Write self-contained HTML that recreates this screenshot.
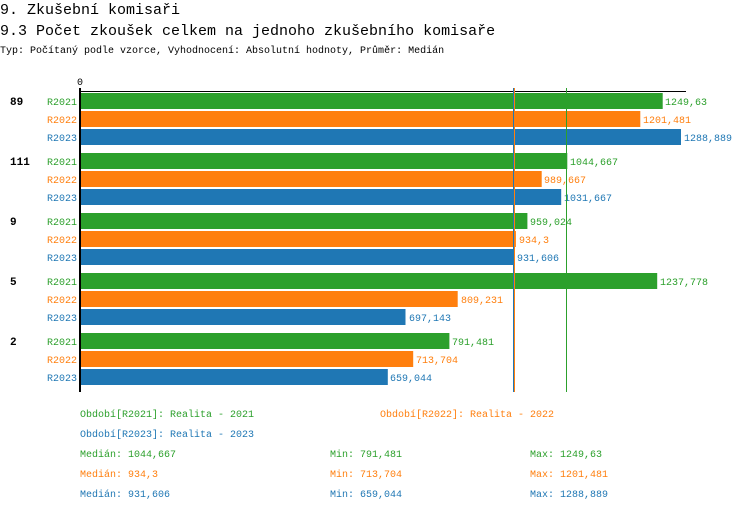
<!DOCTYPE html>
<html><head><meta charset="utf-8"><style>
body{margin:0;background:#fff;}
svg text{font-family:"Liberation Mono","DejaVu Sans Mono",monospace;}
</style></head><body>
<svg width="750" height="512" xmlns="http://www.w3.org/2000/svg">
<text x="0" y="14" font-size="15">9. Zkušební komisaři</text>
<text x="0" y="35" font-size="15">9.3 Počet zkoušek celkem na jednoho zkušebního komisaře</text>
<text x="0" y="53" font-size="10">Typ: Počítaný podle vzorce, Vyhodnocení: Absolutní hodnoty, Průměr: Medián</text>
<text x="80" y="85" font-size="10" text-anchor="middle">0</text>
<line x1="80" y1="91.5" x2="686" y2="91.5" stroke="#000" stroke-width="1"/>
<g id="bars" font-size="10">
<!-- group 1 -->
<text x="10" y="105" font-weight="bold" font-size="11">89</text>
<rect x="81" y="93" width="581.7" height="16" fill="#2ca02c"/><text x="665" y="105" fill="#2ca02c">1249,63</text><text x="77" y="105" fill="#2ca02c" text-anchor="end">R2021</text>
<rect x="81" y="111" width="559.3" height="16" fill="#ff7f0e"/><text x="643" y="123" fill="#ff7f0e">1201,481</text><text x="77" y="123" fill="#ff7f0e" text-anchor="end">R2022</text>
<rect x="81" y="129" width="600" height="16" fill="#1f77b4"/><text x="684" y="141" fill="#1f77b4">1288,889</text><text x="77" y="141" fill="#1f77b4" text-anchor="end">R2023</text>
<!-- group 2 -->
<text x="10" y="165" font-weight="bold" font-size="11">111</text>
<rect x="81" y="153" width="486.3" height="16" fill="#2ca02c"/><text x="570" y="165" fill="#2ca02c">1044,667</text><text x="77" y="165" fill="#2ca02c" text-anchor="end">R2021</text>
<rect x="81" y="171" width="460.7" height="16" fill="#ff7f0e"/><text x="544" y="183" fill="#ff7f0e">989,667</text><text x="77" y="183" fill="#ff7f0e" text-anchor="end">R2022</text>
<rect x="81" y="189" width="480.2" height="16" fill="#1f77b4"/><text x="564" y="201" fill="#1f77b4">1031,667</text><text x="77" y="201" fill="#1f77b4" text-anchor="end">R2023</text>
<!-- group 3 -->
<text x="10" y="225" font-weight="bold" font-size="11">9</text>
<rect x="81" y="213" width="446.4" height="16" fill="#2ca02c"/><text x="530" y="225" fill="#2ca02c">959,024</text><text x="77" y="225" fill="#2ca02c" text-anchor="end">R2021</text>
<rect x="81" y="231" width="434.9" height="16" fill="#ff7f0e"/><text x="519" y="243" fill="#ff7f0e">934,3</text><text x="77" y="243" fill="#ff7f0e" text-anchor="end">R2022</text>
<rect x="81" y="249" width="433.7" height="16" fill="#1f77b4"/><text x="517" y="261" fill="#1f77b4">931,606</text><text x="77" y="261" fill="#1f77b4" text-anchor="end">R2023</text>
<!-- group 4 -->
<text x="10" y="285" font-weight="bold" font-size="11">5</text>
<rect x="81" y="273" width="576.2" height="16" fill="#2ca02c"/><text x="660" y="285" fill="#2ca02c">1237,778</text><text x="77" y="285" fill="#2ca02c" text-anchor="end">R2021</text>
<rect x="81" y="291" width="376.7" height="16" fill="#ff7f0e"/><text x="461" y="303" fill="#ff7f0e">809,231</text><text x="77" y="303" fill="#ff7f0e" text-anchor="end">R2022</text>
<rect x="81" y="309" width="324.5" height="16" fill="#1f77b4"/><text x="409" y="321" fill="#1f77b4">697,143</text><text x="77" y="321" fill="#1f77b4" text-anchor="end">R2023</text>
<!-- group 5 -->
<text x="10" y="345" font-weight="bold" font-size="11">2</text>
<rect x="81" y="333" width="368.4" height="16" fill="#2ca02c"/><text x="452" y="345" fill="#2ca02c">791,481</text><text x="77" y="345" fill="#2ca02c" text-anchor="end">R2021</text>
<rect x="81" y="351" width="332.2" height="16" fill="#ff7f0e"/><text x="416" y="363" fill="#ff7f0e">713,704</text><text x="77" y="363" fill="#ff7f0e" text-anchor="end">R2022</text>
<rect x="81" y="369" width="306.8" height="16" fill="#1f77b4"/><text x="390" y="381" fill="#1f77b4">659,044</text><text x="77" y="381" fill="#1f77b4" text-anchor="end">R2023</text>
</g>
<line x1="80" y1="88" x2="80" y2="392" stroke="#000" stroke-width="2"/>
<line x1="514.5" y1="88" x2="514.5" y2="392" stroke="#ff7f0e" stroke-width="1"/>
<line x1="513.5" y1="88" x2="513.5" y2="392" stroke="#1f77b4" stroke-width="1"/>
<line x1="566.5" y1="88" x2="566.5" y2="392" stroke="#2ca02c" stroke-width="1"/>
<g font-size="10">
<text x="80" y="417" fill="#2ca02c">Období[R2021]: Realita - 2021</text>
<text x="380" y="417" fill="#ff7f0e">Období[R2022]: Realita - 2022</text>
<text x="80" y="437" fill="#1f77b4">Období[R2023]: Realita - 2023</text>
<text x="80" y="457" fill="#2ca02c">Medián: 1044,667</text>
<text x="330" y="457" fill="#2ca02c">Min: 791,481</text>
<text x="530" y="457" fill="#2ca02c">Max: 1249,63</text>
<text x="80" y="477" fill="#ff7f0e">Medián: 934,3</text>
<text x="330" y="477" fill="#ff7f0e">Min: 713,704</text>
<text x="530" y="477" fill="#ff7f0e">Max: 1201,481</text>
<text x="80" y="497" fill="#1f77b4">Medián: 931,606</text>
<text x="330" y="497" fill="#1f77b4">Min: 659,044</text>
<text x="530" y="497" fill="#1f77b4">Max: 1288,889</text>
</g>
</svg>
</body></html>
